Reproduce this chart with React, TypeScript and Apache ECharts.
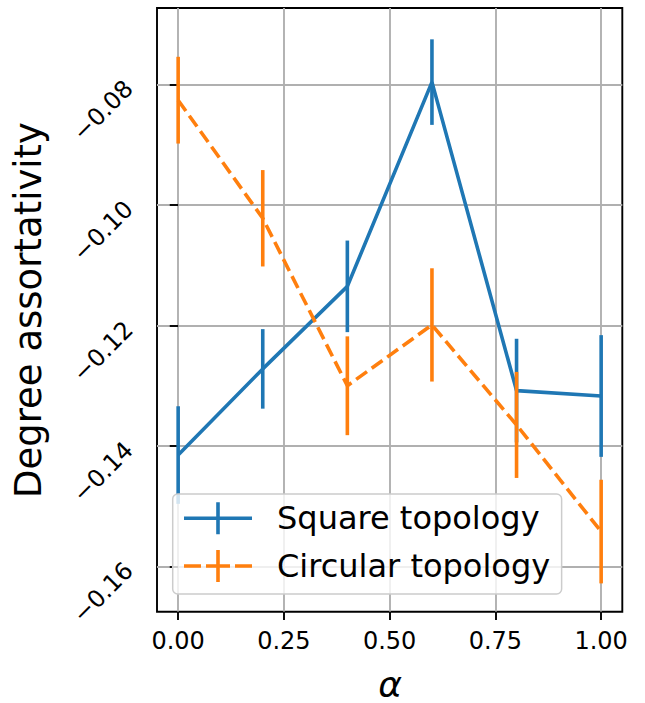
import React, { useEffect, useRef } from "react";
import * as echarts from "echarts";

// Mixing parameter α and the measured degree assortativity (mean ± error)
const alpha = [0, 0.2, 0.4, 0.6, 0.8, 1.0];
const squareMean = [-0.1415, -0.1272, -0.1135, -0.0796, -0.1308, -0.1317];
const squareErr = [0.0081, 0.0066, 0.0076, 0.0071, 0.0086, 0.0101];
const circularMean = [-0.0826, -0.1022, -0.13, -0.1199, -0.1365, -0.1542];
const circularErr = [0.0072, 0.008, 0.0082, 0.0094, 0.0088, 0.0086];

const xTicks = [0, 0.25, 0.5, 0.75, 1.0];
const yTicks = [-0.16, -0.14, -0.12, -0.1, -0.08];

const seriesNames = ["Square topology", "Circular topology"];
const BLUE = "#1f77b4";
const ORANGE = "#ff7f0e";
const FONT = "DejaVu Sans";
const LW = 3.6;

const fmtY = (v: number) => (v < 0 ? "\u2212" : "") + Math.abs(v).toFixed(2);

function errorBars(name: string, mean: number[], err: number[], color: string, z: number) {
  return {
    type: "custom",
    name,
    z,
    silent: true,
    data: alpha.map((a, i) => [a, mean[i] - err[i], mean[i] + err[i]]),
    encode: { x: 0, y: [1, 2] },
    renderItem: (_params: any, api: any) => {
      const lo = api.coord([api.value(0), api.value(1)]);
      const hi = api.coord([api.value(0), api.value(2)]);
      return {
        type: "line",
        shape: { x1: lo[0], y1: lo[1], x2: hi[0], y2: hi[1] },
        style: { stroke: color, lineWidth: LW, lineCap: "butt" },
      };
    },
  };
}

export default function App() {
  const ref = useRef<HTMLDivElement>(null);

  useEffect(() => {
    document.body.style.margin = "0";
    const chart = echarts.init(ref.current!, undefined, { renderer: "svg" });

    const option: any = {
      animation: false,
      backgroundColor: "#ffffff",
      grid: {
        left: 157,
        top: 8,
        right: 22.7,
        bottom: 91.3,
        show: true,
        borderColor: "#000000",
        borderWidth: 1.9,
        backgroundColor: "transparent",
      },
      xAxis: {
        type: "value",
        min: -0.05,
        max: 1.05,
        axisLine: { show: false },
        axisTick: {
          show: true,
          customValues: xTicks,
          length: 8.4,
          lineStyle: { color: "#000", width: 1.9 },
        },
        axisLabel: {
          customValues: xTicks,
          formatter: (v: number) => v.toFixed(2),
          fontFamily: FONT,
          fontSize: 24,
          color: "#000",
          margin: 17,
        },
        splitLine: { show: true, lineStyle: { color: "#b0b0b0", width: 1.9 } },
      },
      yAxis: {
        type: "value",
        min: -0.1675,
        max: -0.0673,
        axisLine: { show: false },
        axisTick: {
          show: true,
          customValues: yTicks,
          length: 8.4,
          lineStyle: { color: "#000", width: 1.9 },
        },
        axisLabel: {
          customValues: yTicks,
          formatter: fmtY,
          rotate: 45,
          fontFamily: FONT,
          fontSize: 24,
          color: "#000",
          margin: 28,
        },
        splitLine: { show: true, lineStyle: { color: "#b0b0b0", width: 1.9 } },
      },
      legend: {
        orient: "vertical",
        left: 172.7,
        top: 494,
        padding: [8.3, 11.5, 12, 11.3],
        itemWidth: 68,
        itemHeight: 32,
        itemGap: 15.7,
        backgroundColor: "rgba(255,255,255,0.8)",
        borderColor: "#cccccc",
        borderWidth: 1.5,
        borderRadius: 5,
        itemStyle: { borderWidth: 0 },
        textStyle: {
          fontFamily: FONT,
          fontSize: 32,
          color: "#000",
          padding: [0, 0, 0, 20],
        },
        data: [
          {
            name: seriesNames[0],
            icon: "path://M0,14.2h68v3.6H0z M32.2,0h3.6v32h-3.6z",
          },
          {
            name: seriesNames[1],
            icon:
              "path://M0,14.2h17v3.6H0z M22,14.2h24v3.6H22z M51,14.2h17v3.6H51z M32.2,0h3.6v32h-3.6z",
          },
        ],
      },
      graphic: [
        {
          type: "text",
          x: 28,
          y: 310,
          rotation: Math.PI / 2,
          style: {
            text: "Degree assortativity",
            font: `37px '${FONT}'`,
            fill: "#000",
            textAlign: "center",
            textVerticalAlign: "middle",
          },
        },
        {
          type: "text",
          x: 390,
          y: 684,
          style: {
            text: "\u03b1",
            font: `italic 36px '${FONT}'`,
            fill: "#000",
            textAlign: "center",
            textVerticalAlign: "middle",
          },
        },
      ],
      series: [
        {
          type: "line",
          name: seriesNames[0],
          z: 2,
          data: alpha.map((a, i) => [a, squareMean[i]]),
          showSymbol: false,
          symbol: "none",
          color: BLUE,
          itemStyle: { color: BLUE },
          lineStyle: { color: BLUE, width: LW },
        },
        errorBars(seriesNames[0], squareMean, squareErr, BLUE, 2),
        {
          type: "line",
          name: seriesNames[1],
          z: 3,
          data: alpha.map((a, i) => [a, circularMean[i]]),
          showSymbol: false,
          symbol: "none",
          color: ORANGE,
          itemStyle: { color: ORANGE },
          lineStyle: { color: ORANGE, width: LW, type: [13.3, 5.8] },
        },
        errorBars(seriesNames[1], circularMean, circularErr, ORANGE, 3),
      ],
    };

    chart.setOption(option);
    return () => chart.dispose();
  }, []);

  return <div ref={ref} style={{ width: 645, height: 703 }} />;
}
